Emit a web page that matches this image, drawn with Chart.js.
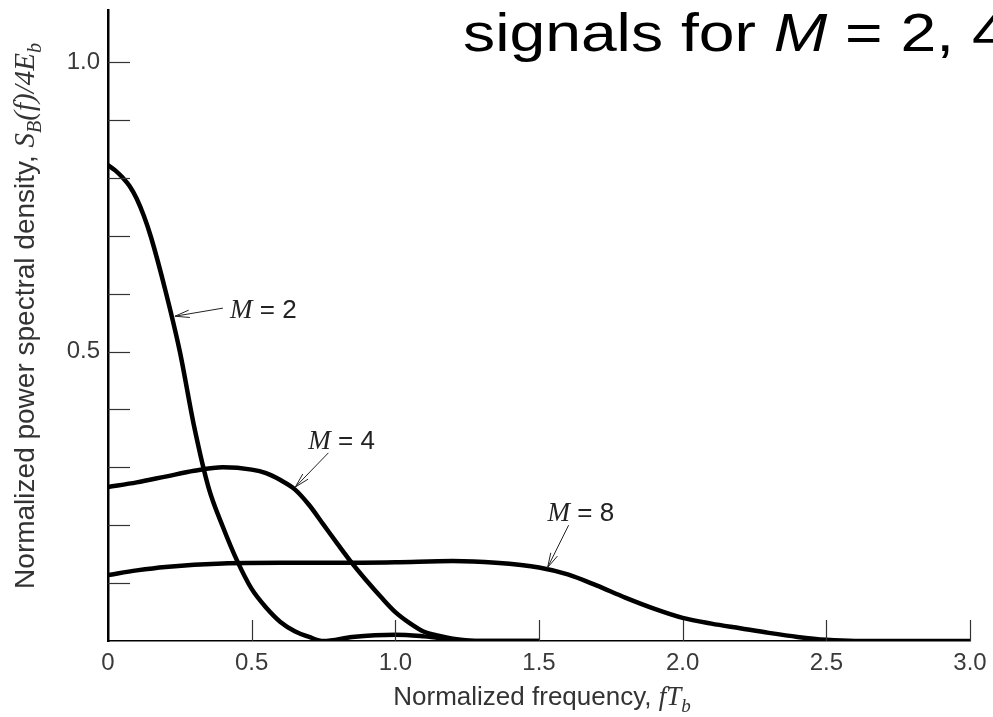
<!DOCTYPE html>
<html>
<head>
<meta charset="utf-8">
<script src="https://cdn.jsdelivr.net/npm/chart.js@4.4.1/dist/chart.umd.min.js"></script>
<style>
  html, body { margin: 0; padding: 0; background: #fff; }
  #wrap { width: 993px; height: 717px; position: relative; }
</style>
</head>
<body>
<div id="wrap"><canvas id="psdChart"></canvas></div>
<script>
// waarden (x = fT_b, y = S_B(f)/4E_b)
const freqM2 = [0, 0.025, 0.05, 0.075, 0.1, 0.125, 0.15, 0.2, 0.25, 0.3, 0.35, 0.4, 0.45, 0.5, 0.55, 0.6, 0.65, 0.7, 0.75, 0.85, 1.0, 1.1, 1.25, 1.5];
const psdM2  = [0.822, 0.813, 0.801, 0.786, 0.764, 0.734, 0.697, 0.605, 0.50, 0.37, 0.265, 0.197, 0.138, 0.09, 0.058, 0.033, 0.017, 0.007, 0, 0.007, 0.011, 0.008, 0, 0];

const freqM4 = [0, 0.1, 0.2, 0.3, 0.4, 0.5, 0.55, 0.6, 0.65, 0.7, 0.75, 0.8, 0.85, 0.9, 0.95, 1.0, 1.05, 1.1, 1.15, 1.2, 1.3, 1.5];
const psdM4  = [0.266, 0.274, 0.284, 0.294, 0.30, 0.296, 0.29, 0.278, 0.262, 0.235, 0.201, 0.167, 0.134, 0.104, 0.076, 0.05, 0.031, 0.016, 0.009, 0.004, 0, 0];

const freqM8 = [0, 0.1, 0.2, 0.4, 0.6, 0.8, 1.0, 1.2, 1.35, 1.5, 1.6, 1.7, 1.8, 1.9, 2.0, 2.1, 2.2, 2.3, 2.4, 2.5, 2.6, 3.0];
const psdM8  = [0.114, 0.122, 0.128, 0.134, 0.135, 0.135, 0.136, 0.138, 0.135, 0.127, 0.115, 0.096, 0.075, 0.056, 0.04, 0.03, 0.022, 0.014, 0.007, 0.002, 0, 0];

const seriesNames = ['M = 2', 'M = 4', 'M = 8'];
const xTickValues = [0, 0.5, 1.0, 1.5, 2.0, 2.5, 3.0];
const yTickValues = [0, 0.1, 0.2, 0.3, 0.4, 0.5, 0.6, 0.7, 0.8, 0.9, 1.0];
const yLabelled = [0.5, 1.0];

// pijltjes bij de krommen: tekst links, staart, kop (in data-eenheden)
const labelPos  = [[0.425, 0.573], [0.697, 0.347], [1.53, 0.223]];
const arrowTail = [[0.40, 0.575], [0.767, 0.325], [1.603, 0.20]];
const arrowHead = [[0.233, 0.561], [0.652, 0.266], [1.53, 0.127]];

const sans = "'Liberation Sans', Arial, sans-serif";
const serif = "'Liberation Serif', 'Times New Roman', serif";

function toPoints(xs, ys) {
    return xs.map((x, i) => ({ x: x, y: ys[i] }));
}

// tekst in stukjes met verschillende fonts tekenen
function drawRuns(ctx, runs, x, y, align) {
    let total = 0;
    runs.forEach(r => { ctx.font = r.font; total += ctx.measureText(r.t).width; });
    let cx = align === 'center' ? x - total / 2 : x;
    ctx.textBaseline = 'alphabetic';
    ctx.textAlign = 'left';
    runs.forEach(r => {
        ctx.font = r.font;
        ctx.fillText(r.t, cx, y + (r.dy || 0));
        cx += ctx.measureText(r.t).width;
    });
}

const decorPlugin = {
    id: 'decor',
    afterDraw(chart) {
        const ctx = chart.ctx;
        const xs = chart.scales.x, ys = chart.scales.y;
        ctx.save();

        // tickjes naar binnen
        ctx.strokeStyle = '#333';
        ctx.lineWidth = 1.2;
        yTickValues.forEach(v => {
            if (v === 0) return;
            const py = Math.round(ys.getPixelForValue(v)) + 0.5;
            ctx.beginPath();
            ctx.moveTo(xs.left, py);
            ctx.lineTo(xs.left + 22, py);
            ctx.stroke();
        });
        xTickValues.forEach(v => {
            if (v === 0) return;
            const px = Math.round(xs.getPixelForValue(v)) + 0.5;
            ctx.beginPath();
            ctx.moveTo(px, ys.bottom);
            ctx.lineTo(px, ys.bottom - 21);
            ctx.stroke();
        });

        // labels M = ... met pijl
        ctx.fillStyle = '#222';
        ctx.strokeStyle = '#222';
        ctx.lineWidth = 1;
        seriesNames.forEach((name, i) => {
            const lx = xs.getPixelForValue(labelPos[i][0]);
            const ly = ys.getPixelForValue(labelPos[i][1]) + 9;
            drawRuns(ctx, [
                { t: 'M', font: 'italic 27px ' + serif },
                { t: ' = ' + name.split('= ')[1], font: '26px ' + sans }
            ], lx, ly, 'left');

            const tx = xs.getPixelForValue(arrowTail[i][0]), ty = ys.getPixelForValue(arrowTail[i][1]);
            const hx = xs.getPixelForValue(arrowHead[i][0]), hy = ys.getPixelForValue(arrowHead[i][1]);
            const ang = Math.atan2(hy - ty, hx - tx);
            ctx.beginPath();
            ctx.moveTo(tx, ty);
            ctx.lineTo(hx, hy);
            ctx.moveTo(hx - 15 * Math.cos(ang - 0.25), hy - 15 * Math.sin(ang - 0.25));
            ctx.lineTo(hx, hy);
            ctx.lineTo(hx - 15 * Math.cos(ang + 0.25), hy - 15 * Math.sin(ang + 0.25));
            ctx.stroke();
        });

        // as-titels
        ctx.fillStyle = '#333';
        drawRuns(ctx, [
            { t: 'Normalized frequency, ', font: '26px ' + sans },
            { t: 'fT', font: 'italic 27px ' + serif },
            { t: 'b', font: 'italic 19px ' + serif, dy: 7 }
        ], 542, 705, 'center');

        ctx.save();
        ctx.translate(34, 316);
        ctx.rotate(-Math.PI / 2);
        drawRuns(ctx, [
            { t: 'Normalized power spectral density, ', font: '28px ' + sans },
            { t: 'S', font: 'italic 29px ' + serif },
            { t: 'B', font: 'italic 20px ' + serif, dy: 7 },
            { t: '(f)/4E', font: 'italic 29px ' + serif },
            { t: 'b', font: 'italic 20px ' + serif, dy: 7 }
        ], 0, 0, 'center');
        ctx.restore();

        // afgesneden titel bovenaan (breder lettertype, dus horizontaal uitgerekt)
        ctx.save();
        ctx.translate(463, 51);
        ctx.scale(1.19, 1);
        ctx.fillStyle = '#000';
        drawRuns(ctx, [
            { t: 'signals for ', font: '54px ' + sans },
            { t: 'M', font: 'italic 54px ' + sans },
            { t: ' = 2, 4', font: '54px ' + sans }
        ], 0, 0, 'left');
        ctx.restore();

        ctx.restore();
    }
};

function makeDataset(label, xs, ys) {
    return {
        label: label,
        data: toPoints(xs, ys),
        borderColor: '#000',
        borderWidth: 4.5,
        pointRadius: 0,
        fill: false,
        cubicInterpolationMode: 'monotone'
    };
}

function noPadding(scale) {
    scale.paddingTop = 0;
    scale.paddingBottom = 0;
    scale.paddingLeft = 0;
    scale.paddingRight = 0;
}

function drawChart() {
    const ctx = document.getElementById('psdChart').getContext('2d');
    new Chart(ctx, {
        type: 'line',
        data: {
            datasets: [
                makeDataset(seriesNames[0], freqM2, psdM2),
                makeDataset(seriesNames[1], freqM4, psdM4),
                makeDataset(seriesNames[2], freqM8, psdM8)
            ]
        },
        options: {
            responsive: true,
            maintainAspectRatio: false,
            animation: false,
            layout: { padding: { top: 10, right: 23, left: 0, bottom: 0 } },
            plugins: {
                legend: { display: false },
                tooltip: { enabled: false }
            },
            scales: {
                x: {
                    type: 'linear',
                    min: 0,
                    max: 3,
                    afterBuildTicks: scale => { scale.ticks = xTickValues.map(v => ({ value: v })); },
                    afterFit: scale => { scale.height = 76; noPadding(scale); },
                    grid: { display: true, drawOnChartArea: false, drawTicks: false },
                    border: { display: true, color: '#000', width: 1.5 },
                    ticks: {
                        padding: 8,
                        color: '#3a3a3a',
                        font: { family: sans, size: 24 },
                        maxRotation: 0,
                        callback: v => v === 0 ? '0' : v.toFixed(1)
                    }
                },
                y: {
                    type: 'linear',
                    min: 0,
                    max: 1.09,
                    afterBuildTicks: scale => { scale.ticks = yTickValues.map(v => ({ value: v })); },
                    afterFit: scale => { scale.width = 108; noPadding(scale); },
                    grid: { display: true, drawOnChartArea: false, drawTicks: false },
                    border: { display: true, color: '#000', width: 2.5 },
                    ticks: {
                        padding: 8,
                        color: '#3a3a3a',
                        font: { family: sans, size: 24 },
                        callback: v => yLabelled.some(l => Math.abs(l - v) < 1e-6) ? v.toFixed(1) : ''
                    }
                }
            }
        },
        plugins: [decorPlugin]
    });
}

window.onload = drawChart;
</script>
</body>
</html>
